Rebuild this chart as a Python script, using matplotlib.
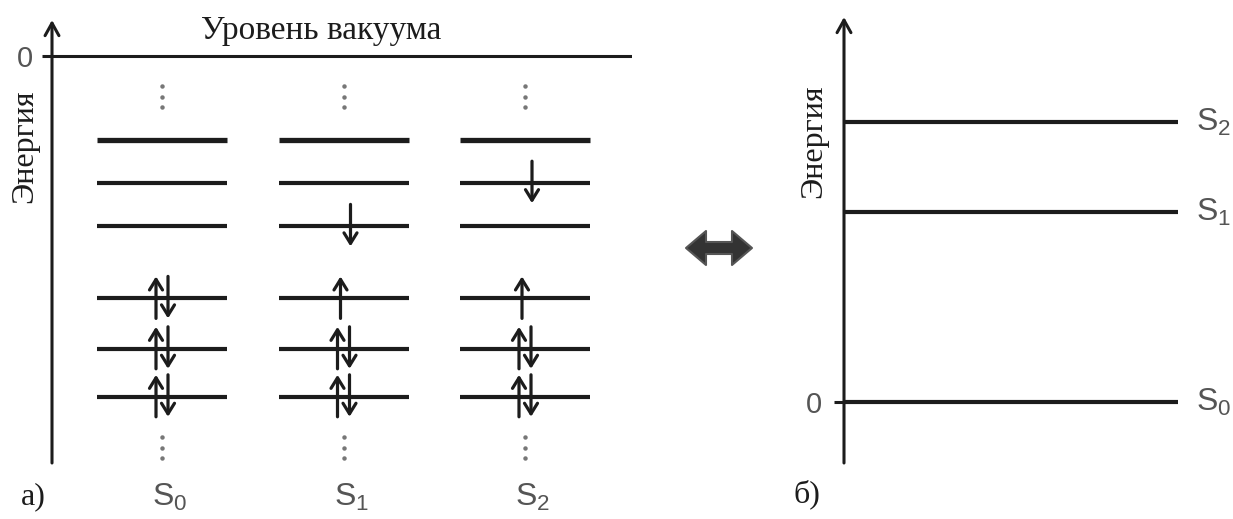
import numpy as np
import matplotlib.pyplot as plt
from matplotlib.patches import Polygon
from matplotlib.transforms import blended_transform_factory

# Orbital energies (arbitrary units, vacuum level = 0), top to bottom
orbital_energies = [-1.75, -2.65, -3.55, -5.05, -6.1, -7.1]
# Electron configuration of each orbital for the states S0, S1, S2
state_names = ['S$_\\mathregular{0}$', 'S$_\\mathregular{1}$', 'S$_\\mathregular{2}$']
occupations = [
    ['', '', '', 'ud', 'ud', 'ud'],
    ['', '', 'd', 'u', 'ud', 'ud'],
    ['', 'd', '', 'u', 'ud', 'ud'],
]
# State energies for the right-hand diagram
state_energies = [0.0, 1.9, 2.8]

W, H = 1233, 519
fig = plt.figure(figsize=(W / 100, H / 100), dpi=100)

ink = '#1c1c1c'
grey = '#555555'
serif = 'Liberation Serif'
sans = 'Liberation Sans'


def px_axes(x0, y0, x1, y1):
    return fig.add_axes([x0 / W, 1 - y1 / H, (x1 - x0) / W, (y1 - y0) / H])


def axis_arrow(ax):
    ax.annotate('', xy=(0, 1), xytext=(0, 0), xycoords='axes fraction',
                arrowprops=dict(arrowstyle='->,head_length=0.45,head_width=0.25',
                                lw=2.2, color=ink, shrinkA=0, shrinkB=0,
                                mutation_scale=20))


def style_axes(ax, pad):
    for s in ax.spines.values():
        s.set_visible(False)
    ax.set_xticks([])
    ax.set_yticks([0])
    ax.set_yticklabels(['0'], fontfamily=sans, fontsize=21, color=grey)
    ax.tick_params(axis='y', length=7, width=2.2, color=ink, pad=pad)
    ax.patch.set_alpha(0)


# ---- left: orbital diagram ----
axL = px_axes(52, 20, 632, 463)
px_per_e = 48.0
col_px = 181.5
axL.set_xlim((52 - 162) / col_px, (632 - 162) / col_px)
axL.set_ylim(-(463 - 56) / px_per_e, (56 - 20) / px_per_e)
style_axes(axL, 7)
axis_arrow(axL)
axL.axhline(0, color=ink, lw=2.2)

half = 65 / col_px
dE_top, dE_bot = 22 / px_per_e, 20 / px_per_e
spin_kw = dict(arrowstyle='->,head_length=0.42,head_width=0.26', lw=2.3,
               color=ink, shrinkA=0, shrinkB=0, mutation_scale=18)

for i, occ in enumerate(occupations):
    for j, (e, o) in enumerate(zip(orbital_energies, occ)):
        axL.plot([i - half, i + half], [e, e], color=ink,
                 lw=3.8 if j == 0 else 3.0, solid_capstyle='butt')
        if o == 'ud':
            ups, downs = [-6], [6]
        else:
            ups = [-3] if o == 'u' else []
            downs = [7] if o == 'd' else []
        for dx in ups:
            x = i + dx / col_px
            axL.annotate('', xy=(x, e + dE_top), xytext=(x, e - dE_bot), arrowprops=spin_kw)
        for dx in downs:
            x = i + dx / col_px
            axL.annotate('', xy=(x, e - dE_bot), xytext=(x, e + dE_top), arrowprops=spin_kw)

    # continuation dots above and below the ladder
    top_dots = orbital_energies[0] + np.array([1.13, 0.9, 0.69])
    bot_dots = orbital_energies[-1] - np.array([0.84, 1.07, 1.28])
    for dots in (top_dots, bot_dots):
        axL.plot([i] * 3, dots, ls='none', marker='o', ms=2.2, color='#777777',
                 clip_on=False)

tx = blended_transform_factory(axL.transData, axL.transAxes)
for i, name in enumerate(state_names):
    axL.text(i + 8 / col_px, -0.078, name, transform=tx, ha='center', va='center',
             fontfamily=sans, fontsize=23, color=grey)

axL.annotate('Уровень вакуума', xy=((321 - 162) / col_px, 0), xytext=(0, 12),
             textcoords='offset points', ha='center', va='baseline',
             fontfamily=serif, fontsize=24, color=ink)
ty = blended_transform_factory(axL.transAxes, axL.transData)
axL.text(-0.047, -(146 - 56) / px_per_e, 'Энергия', transform=ty, rotation=90,
         ha='center', va='center', fontfamily=serif, fontsize=23, color=ink)
axL.text(-0.033, -0.075, 'a)', transform=axL.transAxes, ha='center', va='center',
         fontfamily=serif, fontsize=23, color=ink)

# ---- right: state diagram ----
axR = px_axes(844, 17, 1178, 463)
axR.set_xlim(0, 1)
axR.set_ylim(-(463 - 402) / 100, (402 - 17) / 100)
style_axes(axR, 9)
axis_arrow(axR)
axR.hlines(state_energies, 0, 1, color=ink, lw=3.0)
for e, name in zip(state_energies, state_names):
    axR.text(1.055, e, name, ha='left', va='center', fontfamily=sans,
             fontsize=23, color=grey)
tyR = blended_transform_factory(axR.transAxes, axR.transData)
axR.text(-0.09, (402 - 141) / 100, 'Энергия', transform=tyR, rotation=90,
         ha='center', va='center', fontfamily=serif, fontsize=23, color=ink)
axR.text(-0.11, -0.07, 'б)', transform=axR.transAxes, ha='center', va='center',
         fontfamily=serif, fontsize=23, color=ink)

# double-headed arrow between the two panels (outline in pixels)
arrow_px = [(686, 248), (706, 231), (706, 242), (732, 242), (732, 231),
            (752, 248), (732, 265), (732, 254), (706, 254), (706, 265)]
fig.patches.append(Polygon([(x / W, 1 - y / H) for x, y in arrow_px], closed=True,
                           transform=fig.transFigure, facecolor='#333333',
                           edgecolor='#555555', lw=1.5, joinstyle='round'))

fig.savefig('out.png', dpi=100)
